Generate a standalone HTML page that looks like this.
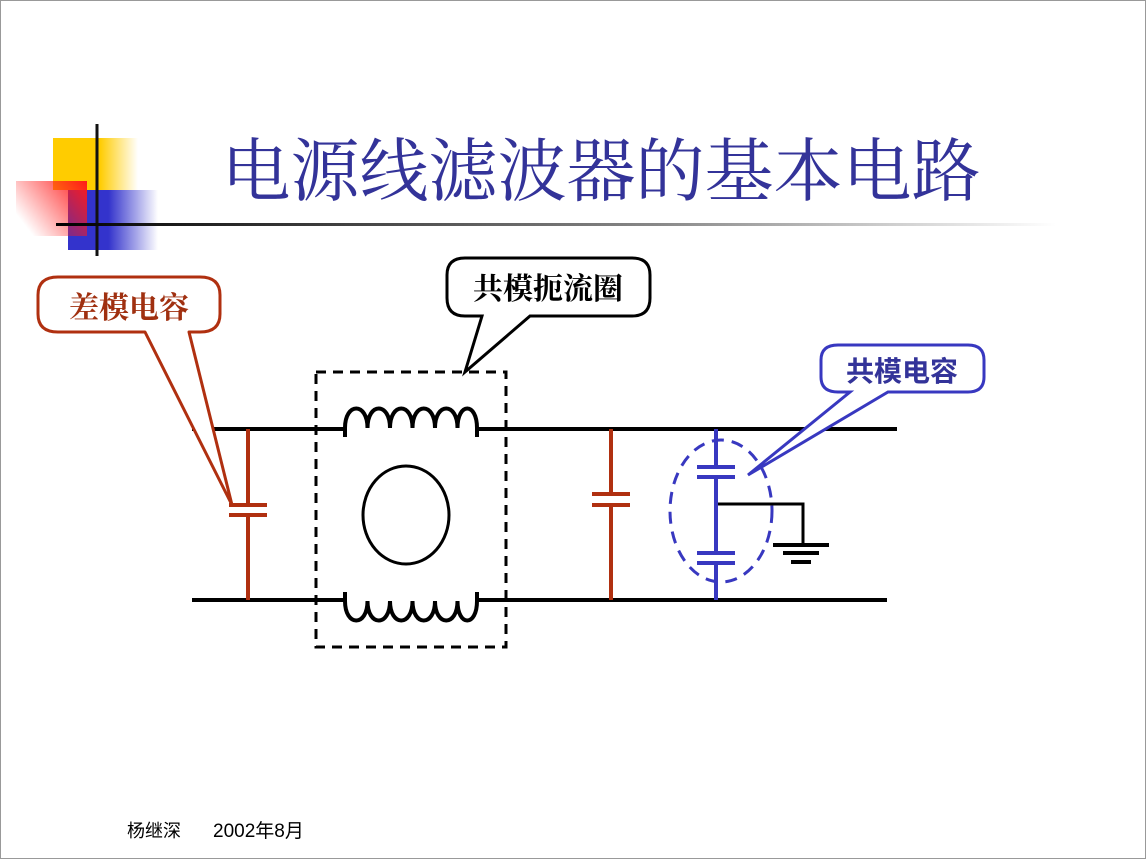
<!DOCTYPE html>
<html><head><meta charset="utf-8"><style>
html,body{margin:0;padding:0;background:#fff}
body{width:1146px;height:859px;position:relative;overflow:hidden;font-family:"Liberation Sans","Noto Sans CJK SC",sans-serif}
</style></head><body>
<svg width="1146" height="859" viewBox="0 0 1146 859" xmlns="http://www.w3.org/2000/svg">
<defs>
<linearGradient id="gy" x1="0" x2="1"><stop offset="0.55" stop-color="#ffcc00"/><stop offset="1" stop-color="#ffcc00" stop-opacity="0"/></linearGradient>
<linearGradient id="gb" x1="0" x2="1"><stop offset="0.45" stop-color="#3333cc"/><stop offset="1" stop-color="#3333cc" stop-opacity="0"/></linearGradient>
<linearGradient id="gr" x1="1" x2="0" y1="0" y2="0.6"><stop offset="0" stop-color="#ff1a1a"/><stop offset="1" stop-color="#ff1a1a" stop-opacity="0"/></linearGradient>
<linearGradient id="gl" x1="0" x2="1"><stop offset="0" stop-color="#000"/><stop offset="0.6" stop-color="#888"/><stop offset="1" stop-color="#fff"/></linearGradient>
</defs>
<rect x="0.5" y="0.5" width="1145" height="858" fill="#fff" stroke="#999"/>
<rect x="53" y="138" width="85" height="52" fill="url(#gy)"/>
<rect x="68" y="190" width="90" height="60" fill="url(#gb)"/>
<rect x="16" y="181" width="71" height="55" fill="url(#gr)"/>
<line x1="97" y1="124" x2="97" y2="256" stroke="#111" stroke-width="3"/>
<rect x="56" y="223" width="1000" height="3" fill="url(#gl)"/>
<text x="601" y="195" text-anchor="middle" font-family="'Liberation Serif','Noto Serif CJK SC',serif" font-size="69" fill="#333399">电源线滤波器的基本电路</text>

<g stroke="#000" stroke-width="4" fill="none">
<line x1="192" y1="429" x2="345" y2="429"/><line x1="476" y1="429" x2="897" y2="429"/>
<line x1="192" y1="600" x2="345" y2="600"/><line x1="476" y1="600" x2="887" y2="600"/>
<path d="M345,437 V428 C345,402 367.5,402 367.5,428 C367.5,402 390,402 390,428 C390,402 412.5,402 412.5,428 C412.5,402 435,402 435,428 C435,402 457.5,402 457.5,428 C457.5,402 477,402 477,428 V437"/>
<path d="M345,592 V601 C345,627 367.5,627 367.5,601 C367.5,627 390,627 390,601 C390,627 412.5,627 412.5,601 C412.5,627 435,627 435,601 C435,627 457.5,627 457.5,601 C457.5,627 477,627 477,601 V592"/>
<ellipse cx="406" cy="515" rx="43" ry="49" stroke-width="3"/>
<rect x="316" y="372" width="190" height="275" stroke-width="3" stroke-dasharray="10,7"/>
<polyline points="716,504 803,504 803,545" stroke-width="3"/>
<line x1="773" y1="545" x2="829" y2="545"/><line x1="783" y1="553" x2="819" y2="553"/><line x1="791" y1="562" x2="811" y2="562"/>
</g>
<g stroke="#b03010" stroke-width="4" fill="none">
<line x1="248" y1="429" x2="248" y2="505"/><line x1="248" y1="515" x2="248" y2="600"/>
<line x1="229" y1="505" x2="267" y2="505"/><line x1="229" y1="515" x2="267" y2="515"/>
<line x1="611" y1="429" x2="611" y2="494"/><line x1="611" y1="505" x2="611" y2="600"/>
<line x1="592" y1="494" x2="630" y2="494"/><line x1="592" y1="505" x2="630" y2="505"/>
</g>
<g stroke="#3838c0" stroke-width="4" fill="none">
<line x1="716" y1="429" x2="716" y2="467"/><line x1="716" y1="477" x2="716" y2="553"/><line x1="716" y1="563" x2="716" y2="600"/>
<line x1="697" y1="467" x2="735" y2="467"/><line x1="697" y1="477" x2="735" y2="477"/>
<line x1="697" y1="553" x2="735" y2="553"/><line x1="697" y1="563" x2="735" y2="563"/>
<ellipse cx="721" cy="511" rx="51" ry="71" stroke-width="3" stroke-dasharray="12,8"/>
</g>
<path d="M58,277 H200 Q220,277 220,295 V314 Q220,332 200,332 H189 L232,505 L145,332 H58 Q38,332 38,314 V295 Q38,277 58,277 Z" fill="#fff" stroke="#b03010" stroke-width="3" stroke-linejoin="round"/>
<text x="129" y="318" text-anchor="middle" font-family="'Liberation Serif','Noto Serif CJK SC',serif" font-weight="bold" font-size="30" fill="#a03010">差模电容</text>
<path d="M465,258 H632 Q650,258 650,275 V298 Q650,316 632,316 H530 L465,372 L482,316 H465 Q447,316 447,298 V275 Q447,258 465,258 Z" fill="#fff" stroke="#000" stroke-width="3"/>
<text x="548" y="299" text-anchor="middle" font-family="'Liberation Serif','Noto Serif CJK SC',serif" font-weight="bold" font-size="30" fill="#000">共模扼流圈</text>
<path d="M838,345 H968 Q984,345 984,360 V377 Q984,392 968,392 H888 L748,475 L850,392 H838 Q821,392 821,377 V360 Q821,345 838,345 Z" fill="#fff" stroke="#3838c0" stroke-width="3"/>
<text x="902" y="381" text-anchor="middle" font-family="'Liberation Sans','Noto Sans CJK SC',sans-serif" font-weight="bold" font-size="28" fill="#333399">共模电容</text>
<text x="127" y="837" font-family="'Liberation Sans','Noto Sans CJK SC',sans-serif" font-size="18" fill="#000">杨继深</text>
<text x="213" y="837" font-family="'Liberation Sans','Noto Sans CJK SC',sans-serif" font-size="19" fill="#000">2002年8月</text>
</svg>
</body></html>
